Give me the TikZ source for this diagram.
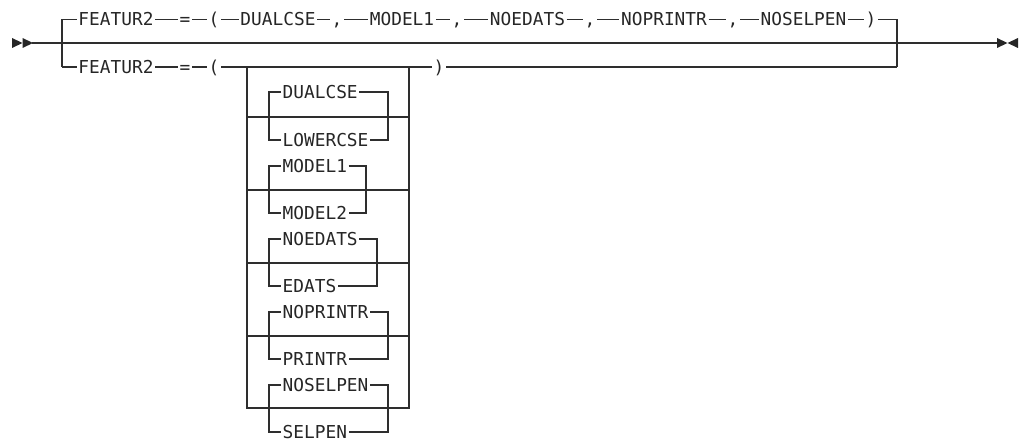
\documentclass[tikz,border=0pt]{standalone}
\usepackage{fontspec}
\setmonofont{DejaVu Sans Mono}
\tikzset{
  ln/.style={line width=1.2pt, draw=black!82},
  kw/.style={font=\fontsize{17.8}{18}\selectfont\ttfamily, text=black!85, inner xsep=1.5pt, inner ysep=0pt, text height=13pt, text depth=0pt},
}
\begin{document}
\begin{tikzpicture}[x=1pt,y=-1pt]
\useasboundingbox (0,0) rectangle (1022,441);
% start / end symbols
\fill[black!85] (12,38) -- (22.5,43) -- (12,48) -- cycle;
\fill[black!85] (22.5,38) -- (33,43) -- (22.5,48) -- cycle;
\fill[black!85] (997,38) -- (1007.5,43) -- (997,48) -- cycle;
\fill[black!85] (1018,38) -- (1007.5,43) -- (1018,48) -- cycle;
\coordinate (s) at (32,43);
\coordinate (e) at (997,43);
\draw[ln] (s) -- (e);
\draw[line width=2.2pt, black!82] (903,43) -- (923,43);
% branch corners
\coordinate (ltop) at (62,19.5);
\coordinate (lbot) at (62,67);
\coordinate (rtop) at (897,19.5);
\coordinate (rbot) at (897,67);
% top row
\node[kw] (t1) at (116,19.5) {FEATUR2};
\node[kw] (t2) at (185,19.5) {=};
\node[kw] (t3) at (214,19.5) {(};
\node[kw] (t4) at (278,19.5) {DUALCSE};
\node[kw] (t5) at (337,19.5) {,};
\node[kw] (t6) at (402,19.5) {MODEL1};
\node[kw] (t7) at (457,19.5) {,};
\node[kw] (t8) at (527.5,19.5) {NOEDATS};
\node[kw] (t9) at (590,19.5) {,};
\node[kw] (t10) at (664,19.5) {NOPRINTR};
\node[kw] (t11) at (733,19.5) {,};
\node[kw] (t12) at (803.5,19.5) {NOSELPEN};
\node[kw] (t13) at (871,19.5) {)};
\draw[ln] (lbot) -- (ltop) -- (t1) -- (t2) -- (t3) -- (t4) -- (t5) -- (t6) -- (t7) -- (t8) -- (t9) -- (t10) -- (t11) -- (t12) -- (t13) -- (rtop) -- (rbot);
% bottom row
\node[kw] (b1) at (116,67) {FEATUR2};
\node[kw] (b2) at (185,67) {=};
\node[kw] (b3) at (214,67) {(};
\node[kw] (b4) at (439,67) {)};
\draw[ln] (lbot) -- (b1) -- (b2) -- (b3) -- (b4) -- (rbot);
% repeat box
\coordinate (bxtl) at (247,67);
\coordinate (bxbl) at (247,408);
\coordinate (bxbr) at (409,408);
\coordinate (bxtr) at (409,67);
\draw[ln] (bxtl) -- (bxbl) -- (bxbr) -- (bxtr);
\foreach \y in {117,190,263,336} {
  \draw[ln] (247,\y) -- (409,\y);
}
% choice groups
\foreach \i/\ya/\yb/\r/\ta/\tb in {1/92/140/388/DUALCSE/LOWERCSE, 2/166/213/366/MODEL1/MODEL2, 3/239/286/377/NOEDATS/EDATS, 4/312/359/388/NOPRINTR/PRINTR, 5/385/432/388/NOSELPEN/SELPEN} {
  \node[kw,anchor=west] (ga\i) at (281,\ya) {\ta};
  \node[kw,anchor=west] (gb\i) at (281,\yb) {\tb};
  \coordinate (gla\i) at (269,\ya);
  \coordinate (glb\i) at (269,\yb);
  \coordinate (gra\i) at (\r,\ya);
  \coordinate (grb\i) at (\r,\yb);
  \draw[ln] (ga\i.west) -- (gla\i) -- (glb\i) -- (gb\i.west);
  \draw[ln] (ga\i.east) -- (gra\i) -- (grb\i) -- (gb\i.east);
}
\end{tikzpicture}
\end{document}
